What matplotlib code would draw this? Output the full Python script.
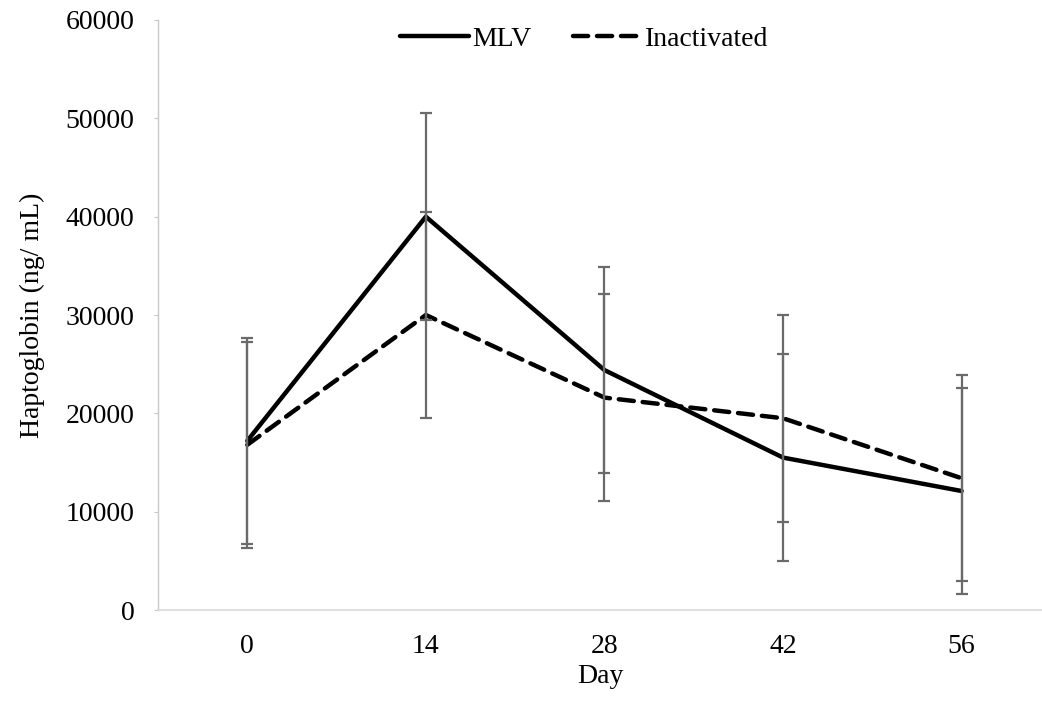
import numpy as np
import matplotlib
matplotlib.use("Agg")
import matplotlib.pyplot as plt

# data
days = ["0", "14", "28", "42", "56"]
mlv = [17200, 40000, 24400, 15500, 12100]
inactivated = [16800, 30000, 21600, 19500, 13400]
mlv_err = [10500, 10500, 10500, 10500, 10500]
inact_err = [10500, 10500, 10500, 10500, 10500]

plt.rcParams['font.family'] = ['Liberation Serif', 'DejaVu Serif']
fs = 20

fig = plt.figure(figsize=(10.42, 7.04), dpi=100)
ax = fig.add_axes([0.1516, 0.1335, 0.8484, 0.8381])

x = np.arange(len(days))
ax.plot(x, mlv, color='black', lw=3.2, solid_capstyle='round', label='MLV', zorder=2)
ax.plot(x, inactivated, color='black', lw=3.2, linestyle=(0, (3.4, 2.0)),
        dash_capstyle='round', label='Inactivated', zorder=2)

# error bars sit on top of the lines
ax.errorbar(x, mlv, yerr=mlv_err, fmt='none', ecolor='#6a6a6a', elinewidth=1.6,
            capsize=4, capthick=1.6, zorder=3)
ax.errorbar(x, inactivated, yerr=inact_err, fmt='none', ecolor='#6a6a6a', elinewidth=1.6,
            capsize=4, capthick=1.6, zorder=3)

ax.set_xlim(-0.5, 4.45)
ax.set_ylim(0, 60000)
ax.set_xticks(x)
ax.set_xticklabels(days)
ax.set_yticks(np.arange(0, 60001, 10000))

for s in ['top', 'right']:
    ax.spines[s].set_visible(False)
ax.spines['left'].set_color('#c8c8c8')
ax.spines['bottom'].set_color('#d9d9d9')
ax.spines['left'].set_linewidth(1.0)
ax.spines['bottom'].set_linewidth(1.2)
ax.tick_params(axis='y', length=3, color='#c8c8c8', labelsize=fs, pad=14)
ax.tick_params(axis='x', length=0, labelsize=fs, pad=17)

ax.set_xlabel('Day', fontsize=fs, labelpad=4)
ax.set_ylabel('Haptoglobin (ng/ mL)', fontsize=fs, labelpad=15)

ax.legend(loc='center', bbox_to_anchor=(0.482, 0.968), ncol=2, frameon=False,
          fontsize=fs, handlelength=2.5, handletextpad=0.1, columnspacing=1.5)

fig.savefig('out.png', dpi=100)
